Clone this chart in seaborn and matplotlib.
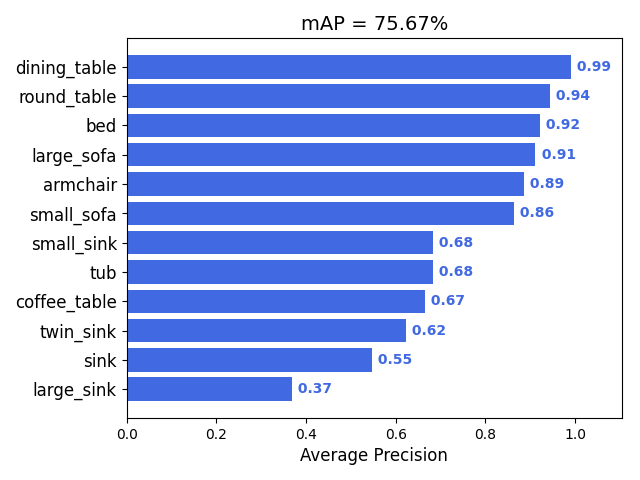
import numpy as np
import pandas as pd
import matplotlib
matplotlib.use("Agg")
import matplotlib.pyplot as plt
import seaborn as sns

sns.set_style("ticks", {"text.color": "black", "axes.labelcolor": "black",
                        "xtick.color": "black", "ytick.color": "black",
                        "axes.edgecolor": "black"})
plt.rcParams['font.family'] = ['DejaVu Sans']

# valores (orden de arriba a abajo)
clases = ["dining_table", "round_table", "bed", "large_sofa", "armchair", "small_sofa",
          "small_sink", "tub", "coffee_table", "twin_sink", "sink", "large_sink"]
ap = [0.991, 0.944, 0.922, 0.911, 0.886, 0.864, 0.683, 0.683, 0.665, 0.623, 0.547, 0.368]
titulo = "mAP = 75.67%"

df = pd.DataFrame({"clase": clases, "ap": ap})

fig, ax = plt.subplots(figsize=(6.4, 4.8), dpi=100)
sns.barplot(data=df, x="ap", y="clase", orient="h", color="royalblue",
            saturation=1, width=0.8, linewidth=0, ax=ax)

barras = ax.containers[0]
ax.bar_label(barras, labels=[f" {v:.2f}" for v in ap], padding=1,
             color="royalblue", fontweight="bold", fontsize=10)

ax.set_xlim(0, 1.105)
ax.set_ylim(len(clases) - 1 + 0.99, -0.99)
ax.set_xticks(np.arange(0, 1.01, 0.2))
ax.set_xlabel("Average Precision", fontsize=12)
ax.set_ylabel("")
ax.set_title(titulo, fontsize=14)
ax.tick_params(axis="y", labelsize=12)
ax.tick_params(axis="x", labelsize=10)

plt.subplots_adjust(left=0.198, right=0.972, bottom=0.129, top=0.921)
plt.savefig("out.png", dpi=100)
